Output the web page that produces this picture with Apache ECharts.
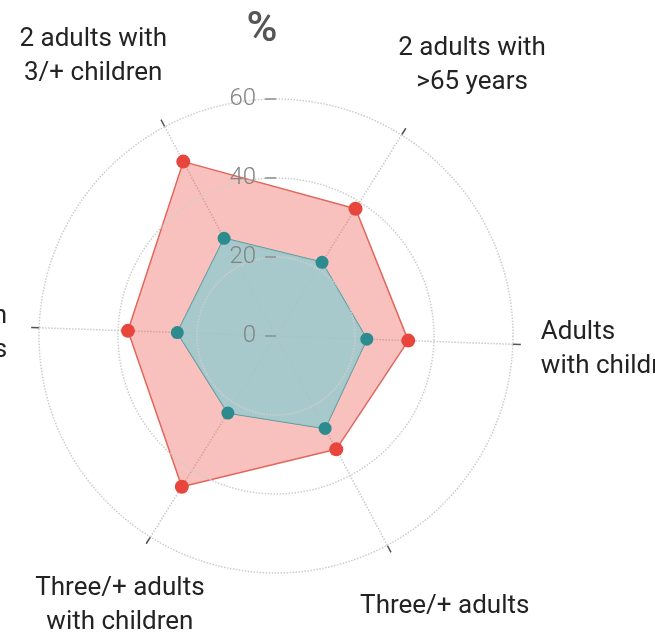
<!DOCTYPE html>
<html>
<head>
<meta charset="utf-8">
<script src="https://cdn.jsdelivr.net/npm/echarts@6/dist/echarts.min.js"></script>
<style>
html,body{margin:0;padding:0;background:#ffffff;}
#c{width:655px;height:635px;}
</style>
</head>
<body>
<div id="c"></div>
<script>
// ---- data (counter-clockwise from the upper-right spoke) ----
const categories = [
  '2 adults with\n>65 years',
  '2 adults with\n3/+ children',
  '2 adults with\n<65 years',
  'Three/+ adults\nwith children',
  'Three/+ adults',
  'Adults\nwith children'
];
const seriesNames = ['Group A', 'Group B'];
const redValues  = [38, 50, 37.5, 45, 32.5, 33.5];
const tealValues = [22, 28, 25, 23, 26.5, 23];
const radiusTicks = [0, 20, 40, 60];

// ---- layout / style (kept apart from the data) ----
const CENTER = [276, 336];
const RADIUS = 237;
const FONT = 'Roboto, "Noto Sans", "DejaVu Sans", sans-serif';
const labelKey = ['c', 'c', 'r', 'c', 'c', 'l'];
const labelPad = [
  [0, 0, 36, -7],
  [0, -6, 36, 0],
  [11, 32, 0, 0],
  [35, -47, 0, 0],
  [44, 0, 0, -20],
  [11, 0, 0, 28]
];

const textBase = {fontSize: 26, lineHeight: 34, color: '#232323', fontFamily: FONT};

const chart = echarts.init(document.getElementById('c'), null, {renderer: 'canvas'});

const option = {
  backgroundColor: '#ffffff',
  animation: false,
  polar: [
    {center: CENTER, radius: RADIUS},
    {center: CENTER, radius: RADIUS}
  ],
  angleAxis: [
    {
      polarIndex: 0,
      type: 'category',
      data: categories.map((c, i) => ({value: c, textStyle: {padding: labelPad[i]}})),
      boundaryGap: false,
      startAngle: 58,
      clockwise: false,
      axisLine: {show: false},
      axisTick: {show: true, length: 8, lineStyle: {color: '#555', width: 1.5}},
      axisLabel: {
        margin: 0,
        formatter: function (v, i) {
          const k = labelKey[i];
          return String(v).split('\n').map(s => '{' + k + '|' + s + '}').join('\n');
        },
        rich: {
          c: Object.assign({width: 155, align: 'center'}, textBase),
          l: Object.assign({align: 'left'}, textBase),
          r: Object.assign({align: 'right'}, textBase)
        }
      },
      splitLine: {show: true, lineStyle: {type: 'dotted', color: '#c9c9c9', width: 1.5}}
    },
    {
      polarIndex: 1,
      type: 'value',
      min: 0,
      max: 360,
      startAngle: 90,
      show: false
    }
  ],
  radiusAxis: [
    {polarIndex: 0, type: 'value', min: 0, max: 60, show: false},
    {
      polarIndex: 1,
      type: 'value',
      z: 10,
      min: radiusTicks[0],
      max: radiusTicks[radiusTicks.length - 1],
      interval: radiusTicks[1] - radiusTicks[0],
      axisLine: {show: false},
      axisTick: {show: true, length: 11, lineStyle: {color: '#8e8e8e', width: 1.5}},
      axisLabel: {margin: 20, fontSize: 24, color: '#838383', fontFamily: FONT, fontWeight: 300},
      splitLine: {show: true, lineStyle: {type: 'dotted', color: '#cdcdcd', width: 1.5}},
      name: '%',
      nameLocation: 'end',
      nameGap: 48,
      nameTextStyle: {fontSize: 42, color: '#555', fontWeight: 500, fontFamily: FONT, padding: [0, 28, 0, 0]}
    }
  ],
  radar: {
    center: CENTER,
    radius: RADIUS,
    startAngle: 58,
    splitNumber: 3,
    indicator: categories.map(c => ({name: c, min: 0, max: 60})),
    axisName: {show: false},
    axisLine: {show: false},
    splitLine: {show: false},
    splitArea: {show: false},
    axisTick: {show: false},
    axisLabel: {show: false}
  },
  series: [
    {
      type: 'radar',
      symbol: 'circle',
      data: [
        {
          name: seriesNames[0],
          value: redValues,
          symbolSize: 14,
          itemStyle: {color: '#e8453c'},
          lineStyle: {color: '#e0675d', width: 1.5},
          areaStyle: {color: 'rgba(240,100,90,0.4)', opacity: 1}
        },
        {
          name: seriesNames[1],
          value: tealValues,
          symbolSize: 13,
          itemStyle: {color: '#2b8b8f'},
          lineStyle: {color: '#5b9497', width: 1.5},
          areaStyle: {color: 'rgba(154,202,206,0.85)', opacity: 1}
        }
      ]
    }
  ]
};
chart.setOption(option);
</script>
</body>
</html>
